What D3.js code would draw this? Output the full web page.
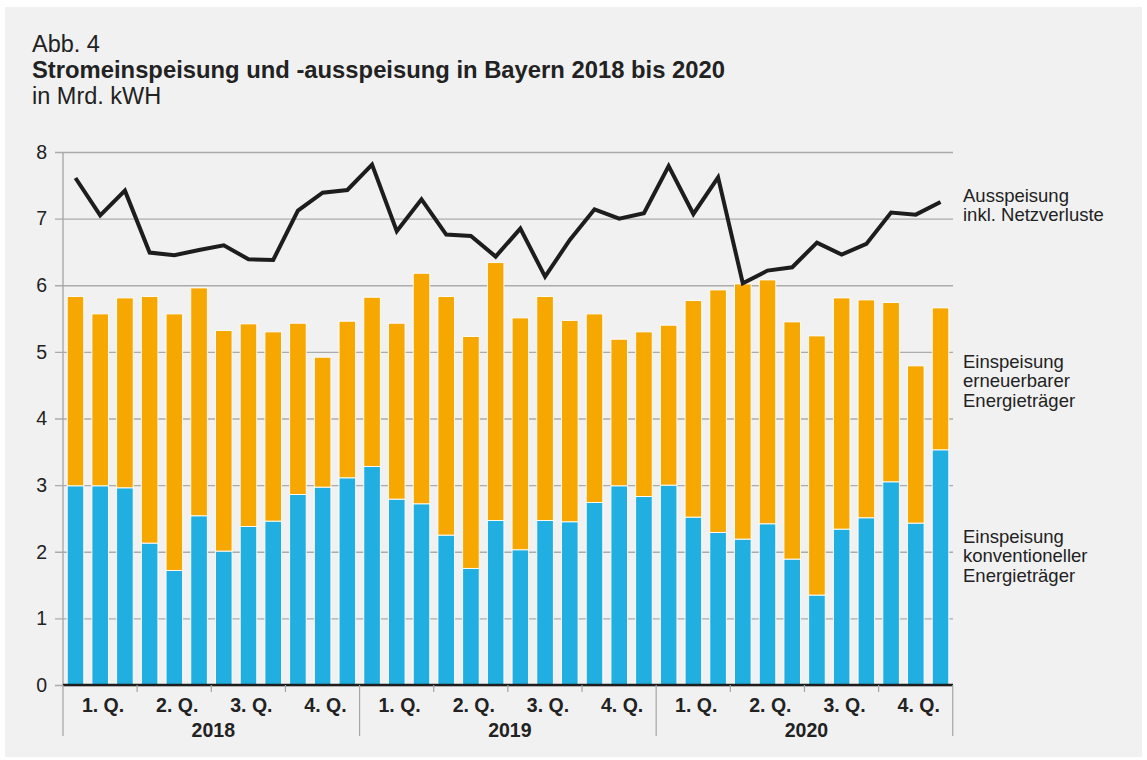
<!DOCTYPE html>
<html>
<head>
<meta charset="utf-8">
<script src="https://cdn.jsdelivr.net/npm/d3@7"></script>
<style>
  html, body { margin: 0; padding: 0; background: #ffffff; }
  svg { display: block; font-family: "Liberation Sans", Arial, sans-serif; }
</style>
</head>
<body>
<div id="chart"></div>
<script>
// data (Mrd. kWh per month)
const years = ["2018", "2019", "2020"];
const quarters = ["1. Q.", "2. Q.", "3. Q.", "4. Q."];

const konventionell = [
  2.99, 2.99, 2.96, 2.13, 1.72, 2.54, 2.01, 2.38, 2.46, 2.86, 2.97, 3.11,
  3.28, 2.79, 2.72, 2.25, 1.75, 2.47, 2.03, 2.47, 2.45, 2.74, 2.99, 2.83,
  3.00, 2.52, 2.29, 2.19, 2.42, 1.89, 1.35, 2.34, 2.51, 3.05, 2.43, 3.53
];
const erneuerbar = [
  2.84, 2.58, 2.85, 3.70, 3.85, 3.42, 3.31, 3.04, 2.84, 2.57, 1.95, 2.35,
  2.54, 2.64, 3.46, 3.58, 3.48, 3.87, 3.48, 3.36, 3.02, 2.83, 2.20, 2.47,
  2.40, 3.25, 3.64, 3.83, 3.66, 3.56, 3.89, 3.47, 3.27, 2.69, 2.36, 2.13
];
const ausspeisung = [
  7.61, 7.05, 7.42, 6.49, 6.45, 6.53, 6.60, 6.39, 6.38, 7.12, 7.39, 7.43,
  7.81, 6.81, 7.29, 6.76, 6.74, 6.43, 6.85, 6.13, 6.68, 7.14, 7.00, 7.08,
  7.79, 7.07, 7.62, 6.03, 6.22, 6.27, 6.64, 6.46, 6.62, 7.09, 7.06, 7.25
];
const yTicks = [0, 1, 2, 3, 4, 5, 6, 7, 8];

const width = 1147, height = 760;
const mLeft = 63, mRight = 953, mTop = 152, mBottom = 685;

const months = d3.range(konventionell.length);
const rows = months.map(i => ({ i, konv: konventionell[i], ern: erneuerbar[i] }));

const x = d3.scaleBand().domain(months).range([mLeft, mRight])
  .paddingInner(0.33).paddingOuter(0.17);
const y = d3.scaleLinear().domain([0, 8]).range([mBottom, mTop]);

const svg = d3.select("#chart").append("svg")
  .attr("width", width).attr("height", height);

svg.append("rect")
  .attr("x", 5).attr("y", 7).attr("width", 1137).attr("height", 750)
  .attr("fill", "#f1f1f1");

// titles
svg.append("text").attr("x", 32).attr("y", 52)
  .attr("font-size", 23.5).attr("fill", "#222").text("Abb. 4");
svg.append("text").attr("x", 32).attr("y", 78)
  .attr("font-size", 23.8).attr("font-weight", "bold").attr("fill", "#222")
  .text("Stromeinspeisung und -ausspeisung in Bayern 2018 bis 2020");
svg.append("text").attr("x", 32).attr("y", 104)
  .attr("font-size", 23.5).attr("fill", "#222").text("in Mrd. kWH");

// grid + y axis
const yAxis = svg.append("g")
  .attr("transform", `translate(${mLeft},0)`)
  .call(d3.axisLeft(y).tickValues(yTicks).tickSize(-(mRight - mLeft)).tickPadding(16));
yAxis.select(".domain").remove();
yAxis.selectAll(".tick line")
  .attr("x1", -8).attr("stroke", "#ababab").attr("stroke-width", 1.3);
yAxis.selectAll(".tick text")
  .attr("font-size", 19.5).attr("fill", "#222");
yAxis.attr("font-family", null).attr("font-size", null);

svg.append("line")
  .attr("x1", mLeft).attr("x2", mLeft).attr("y1", mTop).attr("y2", mBottom)
  .attr("stroke", "#a5a5a5").attr("stroke-width", 1.3);

// stacked bars
const stack = d3.stack().keys(["konv", "ern"]);
const colors = { konv: "#21afe2", ern: "#f6a800" };

svg.append("g").selectAll("g")
  .data(stack(rows))
  .join("g")
    .attr("fill", d => colors[d.key])
  .selectAll("rect")
  .data(d => d)
  .join("rect")
    .attr("x", d => x(d.data.i))
    .attr("width", x.bandwidth())
    .attr("y", d => y(d[1]))
    .attr("height", d => y(d[0]) - y(d[1]))
    .attr("stroke", "#ffffff")
    .attr("stroke-width", 0.9);

// line
const line = d3.line()
  .x((d, i) => x(i) + x.bandwidth() / 2)
  .y(d => y(d));

svg.append("path")
  .datum(ausspeisung)
  .attr("fill", "none")
  .attr("stroke", "#1d1d1d")
  .attr("stroke-width", 4)
  .attr("stroke-linejoin", "miter")
  .attr("d", line);

// x axis
svg.append("line")
  .attr("x1", mLeft).attr("x2", mRight).attr("y1", mBottom).attr("y2", mBottom)
  .attr("stroke", "#1d1d1d").attr("stroke-width", 2.6);

const qGroup = svg.append("g");
years.forEach((yr, yi) => {
  const x0 = x.step() * 12 * yi + mLeft;
  const x1 = x0 + x.step() * 12;
  qGroup.append("text")
    .attr("x", (x0 + x1) / 2 + 2).attr("y", 737)
    .attr("text-anchor", "middle").attr("font-size", 19.5)
    .attr("font-weight", "bold").attr("fill", "#222").text(yr);
  quarters.forEach((q, qi) => {
    const qa = x0 + x.step() * 3 * qi;
    qGroup.append("text")
      .attr("x", qa + x.step() * 1.5 + 3).attr("y", 712)
      .attr("text-anchor", "middle").attr("font-size", 19.5)
      .attr("font-weight", "bold").attr("fill", "#222").text(q);
    if (qi > 0) {
      qGroup.append("line")
        .attr("x1", qa).attr("x2", qa).attr("y1", mBottom).attr("y2", 692)
        .attr("stroke", "#a5a5a5").attr("stroke-width", 1.2);
    }
  });
});
d3.range(years.length + 1).forEach(k => {
  const xx = mLeft + x.step() * 12 * k;
  qGroup.append("line")
    .attr("x1", xx).attr("x2", xx).attr("y1", mBottom).attr("y2", 736)
    .attr("stroke", "#a5a5a5").attr("stroke-width", 1.2);
});

// series labels
const labels = [
  { lines: ["Ausspeisung", "inkl. Netzverluste"], y: 202 },
  { lines: ["Einspeisung", "erneuerbarer", "Energieträger"], y: 368 },
  { lines: ["Einspeisung", "konventioneller", "Energieträger"], y: 543 }
];
labels.forEach(l => {
  const t = svg.append("text").attr("x", 963).attr("y", l.y)
    .attr("font-size", 18.5).attr("fill", "#222");
  l.lines.forEach((s, k) => {
    t.append("tspan").attr("x", 963).attr("y", l.y + k * 19.3).text(s);
  });
});
</script>
</body>
</html>
